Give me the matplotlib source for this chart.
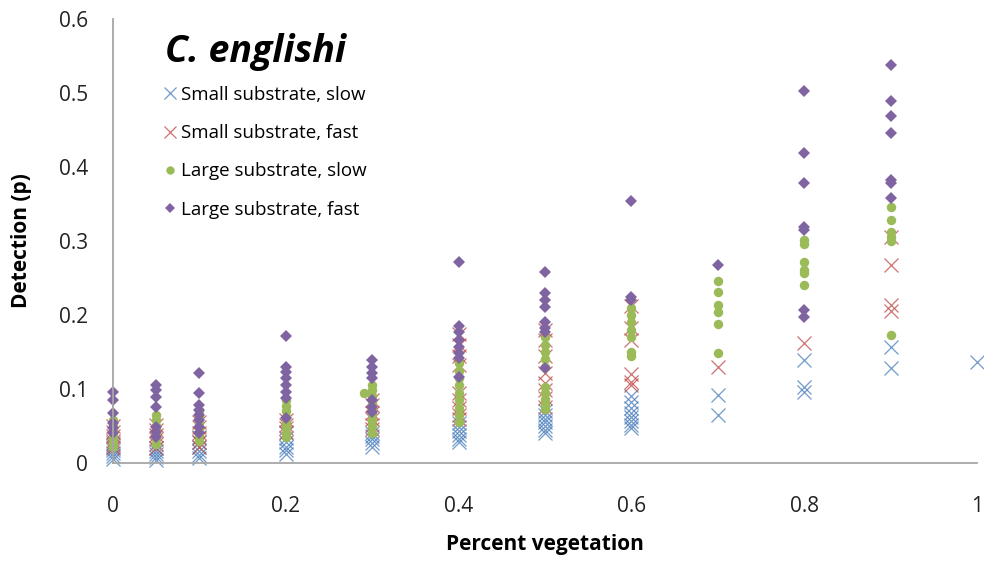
import matplotlib
matplotlib.use("Agg")
import matplotlib.pyplot as plt

plt.rcParams['font.family'] = ['Open Sans', 'DejaVu Sans']

# Small substrate, slow
small_slow_x = [0]*6 + [0.05]*5 + [0.1]*6 + [0.2]*6 + [0.3]*5 + [0.4]*6 + [0.5]*7 + [0.6]*8 + [0.7]*2 + [0.8]*3 + [0.9]*2 + [1.0]
small_slow_y = [0.027, 0.022, 0.018, 0.014, 0.010, 0.006,
                0.020, 0.016, 0.012, 0.008, 0.004,
                0.035, 0.028, 0.022, 0.016, 0.011, 0.007,
                0.040, 0.034, 0.028, 0.022, 0.017, 0.012,
                0.040, 0.036, 0.032, 0.027, 0.022,
                0.054, 0.048, 0.043, 0.038, 0.033, 0.028,
                0.070, 0.065, 0.060, 0.055, 0.050, 0.045, 0.040,
                0.090, 0.083, 0.075, 0.068, 0.062, 0.057, 0.052, 0.047,
                0.092, 0.065,
                0.139, 0.103, 0.096,
                0.157, 0.128,
                0.137]

# Small substrate, fast
small_fast_x = [0]*6 + [0.05]*6 + [0.1]*6 + [0.2]*4 + [0.3]*6 + [0.4]*9 + [0.5]*8 + [0.6]*6 + [0.7] + [0.8] + [0.9]*4
small_fast_y = [0.050, 0.042, 0.036, 0.030, 0.025, 0.020,
                0.052, 0.045, 0.038, 0.032, 0.026, 0.020,
                0.055, 0.048, 0.040, 0.034, 0.028, 0.022,
                0.058, 0.052, 0.047, 0.042,
                0.085, 0.078, 0.068, 0.060, 0.052, 0.046,
                0.175, 0.160, 0.145, 0.133, 0.095, 0.085, 0.075, 0.065, 0.060,
                0.180, 0.166, 0.145, 0.122, 0.108, 0.099, 0.088, 0.076,
                0.212, 0.183, 0.166, 0.120, 0.110, 0.105,
                0.130,
                0.162,
                0.305, 0.268, 0.213, 0.205]

# Large substrate, slow
large_slow_x = [0]*6 + [0.05]*6 + [0.1]*6 + [0.2]*8 + [0.29] + [0.3]*9 + [0.4]*9 + [0.5]*10 + [0.6]*7 + [0.7]*6 + [0.8]*6 + [0.9]*6
large_slow_y = [0.058, 0.050, 0.042, 0.035, 0.028, 0.022,
                0.065, 0.058, 0.050, 0.042, 0.034, 0.026,
                0.070, 0.062, 0.054, 0.046, 0.038, 0.030,
                0.085, 0.077, 0.070, 0.062, 0.055, 0.048, 0.041, 0.035,
                0.095,
                0.105, 0.098, 0.090, 0.082, 0.074, 0.066, 0.058, 0.050, 0.040,
                0.135, 0.125, 0.115, 0.105, 0.095, 0.085, 0.075, 0.065, 0.056,
                0.170, 0.160, 0.150, 0.140, 0.130, 0.103, 0.095, 0.087, 0.080, 0.073,
                0.210, 0.200, 0.190, 0.180, 0.170, 0.150, 0.145,
                0.246, 0.231, 0.214, 0.204, 0.188, 0.149,
                0.301, 0.296, 0.272, 0.261, 0.257, 0.241,
                0.346, 0.328, 0.312, 0.305, 0.300, 0.173]

# Large substrate, fast
large_fast_x = [0]*6 + [0.05]*7 + [0.1]*8 + [0.2]*8 + [0.3]*7 + [0.4]*8 + [0.5]*8 + [0.6]*3 + [0.7] + [0.8]*7 + [0.9]*7
large_fast_y = [0.096, 0.085, 0.068, 0.054, 0.047, 0.040,
                0.105, 0.099, 0.089, 0.076, 0.049, 0.042, 0.035,
                0.122, 0.095, 0.078, 0.072, 0.065, 0.058, 0.049, 0.040,
                0.172, 0.130, 0.123, 0.115, 0.105, 0.096, 0.088, 0.061,
                0.139, 0.130, 0.122, 0.115, 0.085, 0.076, 0.069,
                0.272, 0.185, 0.177, 0.166, 0.157, 0.149, 0.142, 0.116,
                0.258, 0.230, 0.220, 0.211, 0.191, 0.182, 0.177, 0.128,
                0.354, 0.224, 0.220,
                0.268,
                0.503, 0.419, 0.378, 0.319, 0.315, 0.207, 0.197,
                0.538, 0.489, 0.469, 0.446, 0.382, 0.378, 0.358]

x_ticks = [0, 0.2, 0.4, 0.6, 0.8, 1]
x_tick_labels = ["0", "0.2", "0.4", "0.6", "0.8", "1"]
y_ticks = [0, 0.1, 0.2, 0.3, 0.4, 0.5, 0.6]
y_tick_labels = ["0", "0.1", "0.2", "0.3", "0.4", "0.5", "0.6"]

W, H = 984, 561
fig = plt.figure(figsize=(W / 100, H / 100), dpi=100)
ax = fig.add_axes([113 / W, 1 - 463 / H, (977 - 113) / W, (463 - 19) / H])

blue, red, green, purple = "#4F81BD", "#C0504D", "#9BBB59", "#8064A2"

ax.plot(small_slow_x, small_slow_y, ls="none", marker="x", ms=10.5, mew=0.9,
        color=blue, alpha=0.8, clip_on=False, label="Small substrate, slow")
ax.plot(small_fast_x, small_fast_y, ls="none", marker="x", ms=10.5, mew=0.9,
        color=red, alpha=0.8, clip_on=False, label="Small substrate, fast")
ax.plot(large_slow_x, large_slow_y, ls="none", marker="o", ms=6.8, mew=0,
        color=green, clip_on=False, label="Large substrate, slow")
ax.plot(large_fast_x, large_fast_y, ls="none", marker="D", ms=6.0, mew=0,
        color=purple, clip_on=False, label="Large substrate, fast")

ax.set_xlim(0, 1)
ax.set_ylim(0, 0.6)
ax.set_xticks(x_ticks)
ax.set_xticklabels(x_tick_labels)
ax.set_yticks(y_ticks)
ax.set_yticklabels(y_tick_labels)
ax.tick_params(axis="both", length=0, labelsize=15, colors="#222222")
ax.tick_params(axis="x", pad=24)
ax.tick_params(axis="y", pad=18)

for side in ("top", "right"):
    ax.spines[side].set_visible(False)
for side in ("left", "bottom"):
    ax.spines[side].set_color("#a6a6a6")
    ax.spines[side].set_linewidth(1.3)

ax.set_xlabel("Percent vegetation", fontsize=15, fontweight="bold", labelpad=12)
ax.set_ylabel("Detection (p)", fontsize=15, fontweight="bold", labelpad=19)

fig.text(165 / W, 1 - 52 / H, "C. englishi", ha="left", va="center",
         fontsize=27, fontweight="bold", fontstyle="italic")

leg = fig.legend(loc="upper left", bbox_to_anchor=(165 / W, 1 - 86 / H),
                 bbox_transform=fig.transFigure, frameon=False,
                 fontsize=13.5, handlelength=0.55, handletextpad=0.3,
                 labelspacing=1.08, borderaxespad=0, borderpad=0)
for h, ms in zip(leg.legend_handles, (8, 8, 6, 5)):
    h.set_markersize(ms)

fig.savefig("out.png", dpi=100)
